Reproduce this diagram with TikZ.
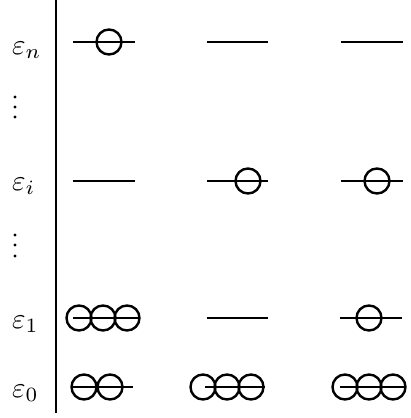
\documentclass[tikz,border=0pt]{standalone}
\usepackage{graphicx}
\begin{document}
\begin{tikzpicture}[x=1pt,y=-1pt,
  axis/.style={line width=2pt},
  levelline/.style={line width=2pt},
  orb/.style={line width=2.4pt},
  dotmark/.style={fill=black},
  elabel/.style={anchor=base west,inner sep=0pt}]
\useasboundingbox (0,0) rectangle (410,418);

% vertical energy axis
\draw[axis] (56,0) -- (56,413);

% level labels
\newcommand{\biglabel}[1]{\scalebox{2.9}{$#1$}}
\node[elabel] (ln) at (12,54)  {\biglabel{\varepsilon_n}};
\node[elabel] (li) at (12,190) {\biglabel{\varepsilon_i}};
\node[elabel] (l1) at (12,328) {\biglabel{\varepsilon_1}};
\node[elabel] (l0) at (12,397) {\biglabel{\varepsilon_0}};

% vertical ellipses between labels
\foreach \y in {97,107,117,235,245,256}
  \fill[dotmark] (15,\y) circle[radius=1.6];

% level n
\draw[levelline] (73,42) -- (135,42);
\draw[levelline] (207,42) -- (268,42);
\draw[levelline] (341,42) -- (403,42);
\draw[orb] (109,42) circle[radius=12.5];

% level i
\draw[levelline] (73,181) -- (135,181);
\draw[levelline] (207,181) -- (268,181);
\draw[levelline] (341,181) -- (403,181);
\draw[orb] (248,181) circle[radius=12.5];
\draw[orb] (377,181) circle[radius=12.5];

% level 1
\draw[levelline] (73,318) -- (138,318);
\draw[levelline] (207,318) -- (268,318);
\draw[levelline] (340,318) -- (402,318);
\foreach \cx in {79,103,127}
  \draw[orb] (\cx,318) circle[radius=12.5];
\draw[orb] (369,318) circle[radius=12.5];

% level 0
\draw[levelline] (71,387) -- (133,387);
\draw[levelline] (205,387) -- (265,387);
\draw[levelline] (340,387) -- (405,387);
\foreach \cx in {84,110}
  \draw[orb] (\cx,387) circle[radius=12.5];
\foreach \cx in {203,227,251}
  \draw[orb] (\cx,387) circle[radius=12.5];
\foreach \cx in {345,369,393}
  \draw[orb] (\cx,387) circle[radius=12.5];
\end{tikzpicture}
\end{document}
